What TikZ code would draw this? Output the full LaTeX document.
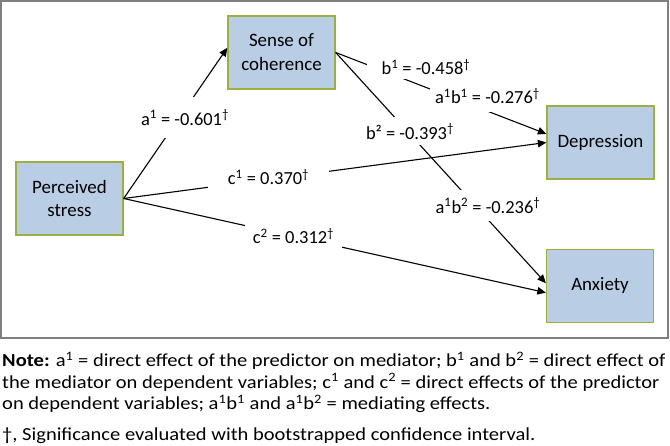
\documentclass[tikz,border=0pt]{standalone}
\usepackage{fontspec}
\setmainfont{Carlito}
\usetikzlibrary{arrows.meta}
\definecolor{boxfill}{HTML}{B9CDE5}
\definecolor{boxline}{HTML}{9BB13F}
\definecolor{framegray}{HTML}{7F7F7F}
\newcommand{\sups}[1]{\textsuperscript{#1}}
\begin{document}
\begin{tikzpicture}[x=1bp,y=-1bp,
  varbox/.style={draw=boxline, fill=boxfill, line width=1.3bp, minimum width=107bp, minimum height=73bp, inner sep=0pt, align=center, font=\fontsize{19}{24}\selectfont},
  conn/.style={line width=1.1bp, -{Triangle[length=8.5bp,width=7.5bp]}},
  lbl/.style={fill=white, inner sep=0pt, font=\fontsize{18.5}{22}\selectfont},
  notetext/.style={anchor=base west, inner sep=0pt, transform shape, xscale=1.12, font=\fontsize{18.4}{21}\selectfont}
]
\useasboundingbox (0,0) rectangle (670,446);
\fill[white] (0,0) rectangle (670,446);
\draw[framegray, line width=1.3bp] (1,1) rectangle (668,338);

\node[varbox] (ps)  at (69.5,198.5) {Perceived\\stress};
\node[varbox] (soc) at (281.5,52.5) {Sense of\\coherence};
\node[varbox] (dep) at (600.5,142.5) {Depression};
\node[varbox] (anx) at (600,286) {Anxiety};

\draw[conn] (ps.east) -- (soc.175);
\draw[conn] (soc.east) -- (dep.171);
\draw[conn] (soc.east) -- (anx.177);
\draw[conn] (ps.east) -- (dep.west);
\draw[conn] (ps.east) -- (anx.187);

\node[lbl, minimum width=88bp, minimum height=41bp] (la) at (185,117.5) {a\sups{1} = -0.601\sups{†}};
\node[lbl, minimum width=118bp, minimum height=24bp] (lb1) at (426,67) {b\sups{1} = -0.458\sups{†}};
\node[lbl, minimum width=115bp, minimum height=32bp] (lab1) at (487.5,96) {a\sups{1}b\sups{1} = -0.276\sups{†}};
\node[lbl, minimum width=100bp, minimum height=28bp] (lb2) at (410,131.5) {b² = -0.393\sups{†}};
\node[lbl, minimum width=121bp, minimum height=22bp] (lc1) at (268.5,177) {c\sups{1} = 0.370\sups{†}};
\node[lbl, minimum width=112bp, minimum height=31bp] (lab2) at (488,205.5) {a\sups{1}b\sups{2} = -0.236\sups{†}};
\node[lbl, minimum width=97bp, minimum height=28bp] (lc2) at (293.5,236) {c\sups{2} = 0.312\sups{†}};

\node[notetext] (n1) at (2,366.5) {\textbf{Note:} a\sups{1} = direct effect of the predictor on mediator; b\sups{1} and b\sups{2} = direct effect of};
\node[notetext] (n2) at (2,388) {the mediator on dependent variables; c\sups{1} and c\sups{2} = direct effects of the predictor};
\node[notetext] (n3) at (2,409.5) {on dependent variables; a\sups{1}b\sups{1} and a\sups{1}b\sups{2} = mediating effects.};
\node[notetext] (n4) at (2,440) {†, Significance evaluated with bootstrapped confidence interval.};
\end{tikzpicture}
\end{document}
